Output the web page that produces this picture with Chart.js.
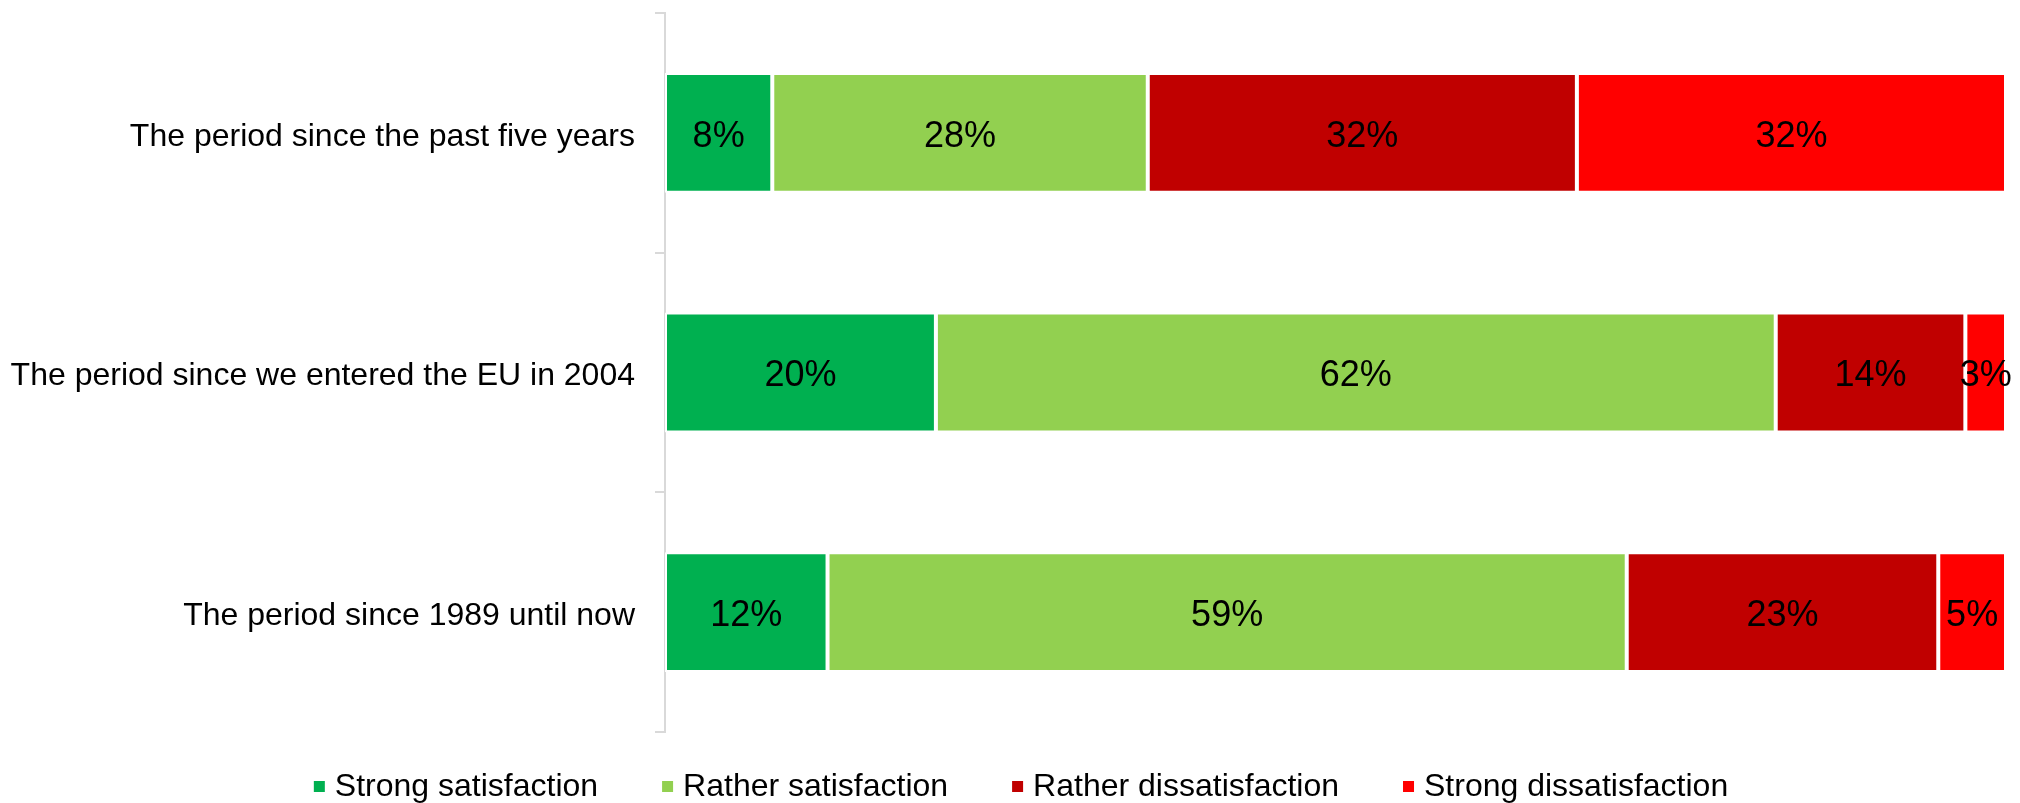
<!DOCTYPE html>
<html lang="en">
<head>
    <meta charset="UTF-8">
    <title>Satisfaction by period</title>
    <script src="https://cdn.jsdelivr.net/npm/chart.js"></script>
    <style>
        html, body {
            margin: 0;
            padding: 0;
            background: #ffffff;
        }

        .chart-container {
            width: 2020px;
            height: 803px;
        }
    </style>
</head>
<body>
    <div class="chart-container">
        <canvas id="satisfactionChart"></canvas>
    </div>
    <script>
        // categories, top to bottom
        var periods = [
            'The period since the past five years',
            'The period since we entered the EU in 2004',
            'The period since 1989 until now'
        ];

        var seriesNames = [
            'Strong satisfaction',
            'Rather satisfaction',
            'Rather dissatisfaction',
            'Strong dissatisfaction'
        ];

        // percentages as printed on the bars
        var strongSatisfaction = [8, 20, 12];
        var ratherSatisfaction = [28, 62, 59];
        var ratherDissatisfaction = [32, 14, 23];
        var strongDissatisfaction = [32, 3, 5];

        var colors = ['#00B050', '#92D050', '#C00000', '#FF0000'];

        var FONT = '"Liberation Sans", Arial, sans-serif';

        window.onload = function() {
            var series = [strongSatisfaction, ratherSatisfaction, ratherDissatisfaction, strongDissatisfaction];

            // 100% stacked: each row is scaled to its own total
            var rowTotals = periods.map(function(p, i) {
                return series.reduce(function(sum, s) { return sum + s[i]; }, 0);
            });

            var datasets = series.map(function(values, k) {
                return {
                    label: seriesNames[k],
                    data: values.map(function(v, i) { return v / rowTotals[i] * 100; }),
                    rawValues: values,
                    backgroundColor: colors[k],
                    borderColor: '#ffffff',
                    borderWidth: 2,
                    borderSkipped: false,
                    categoryPercentage: 1,
                    barPercentage: 0.5
                };
            });

            var valueLabels = {
                id: 'valueLabels',
                afterDatasetsDraw: function(chart) {
                    var ctx = chart.ctx;
                    ctx.save();
                    ctx.font = '36px ' + FONT;
                    ctx.fillStyle = '#000000';
                    ctx.textAlign = 'center';
                    ctx.textBaseline = 'middle';
                    chart.data.datasets.forEach(function(ds, k) {
                        var meta = chart.getDatasetMeta(k);
                        meta.data.forEach(function(bar, i) {
                            var c = bar.getCenterPoint();
                            ctx.fillText(ds.rawValues[i] + '%', c.x, c.y + 4);
                        });
                    });
                    ctx.restore();
                }
            };

            var bottomLegend = {
                id: 'bottomLegend',
                afterDraw: function(chart) {
                    var ctx = chart.ctx;
                    var box = 11, gap = 10, spacing = 64, y = 786;
                    ctx.save();
                    ctx.font = '32px ' + FONT;
                    ctx.textBaseline = 'middle';
                    ctx.textAlign = 'left';
                    var items = chart.data.datasets.map(function(ds) {
                        return { text: ds.label, color: ds.backgroundColor, w: ctx.measureText(ds.label).width };
                    });
                    var total = items.reduce(function(s, it) { return s + box + gap + it.w; }, 0) + spacing * (items.length - 1);
                    var x = chart.width / 2 + 11 - total / 2;
                    items.forEach(function(it) {
                        ctx.fillStyle = it.color;
                        ctx.fillRect(x, y - 5, box, box);
                        ctx.fillStyle = '#000000';
                        ctx.fillText(it.text, x + box + gap, y + 1);
                        x += box + gap + it.w + spacing;
                    });
                    ctx.restore();
                }
            };

            var ctx = document.getElementById('satisfactionChart').getContext('2d');
            new Chart(ctx, {
                type: 'bar',
                data: {
                    labels: periods,
                    datasets: datasets
                },
                options: {
                    indexAxis: 'y',
                    responsive: true,
                    maintainAspectRatio: false,
                    animation: false,
                    layout: {
                        padding: { top: 13, right: 14, bottom: 71, left: 0 }
                    },
                    scales: {
                        x: {
                            stacked: true,
                            display: false,
                            min: 0,
                            max: 100
                        },
                        y: {
                            stacked: true,
                            afterFit: function(scale) {
                                scale.width = 665;
                                scale.paddingTop = 0;
                                scale.paddingBottom = 0;
                            },
                            border: { display: true, color: '#d9d9d9', width: 2 },
                            grid: {
                                drawOnChartArea: false,
                                drawTicks: true,
                                tickLength: 10,
                                color: '#d9d9d9',
                                lineWidth: 2
                            },
                            ticks: {
                                padding: 20,
                                labelOffset: 4,
                                color: '#000000',
                                font: { family: FONT, size: 32 }
                            }
                        }
                    },
                    plugins: {
                        legend: { display: false },
                        tooltip: { enabled: false }
                    }
                },
                plugins: [valueLabels, bottomLegend]
            });
        };
    </script>
</body>
</html>
